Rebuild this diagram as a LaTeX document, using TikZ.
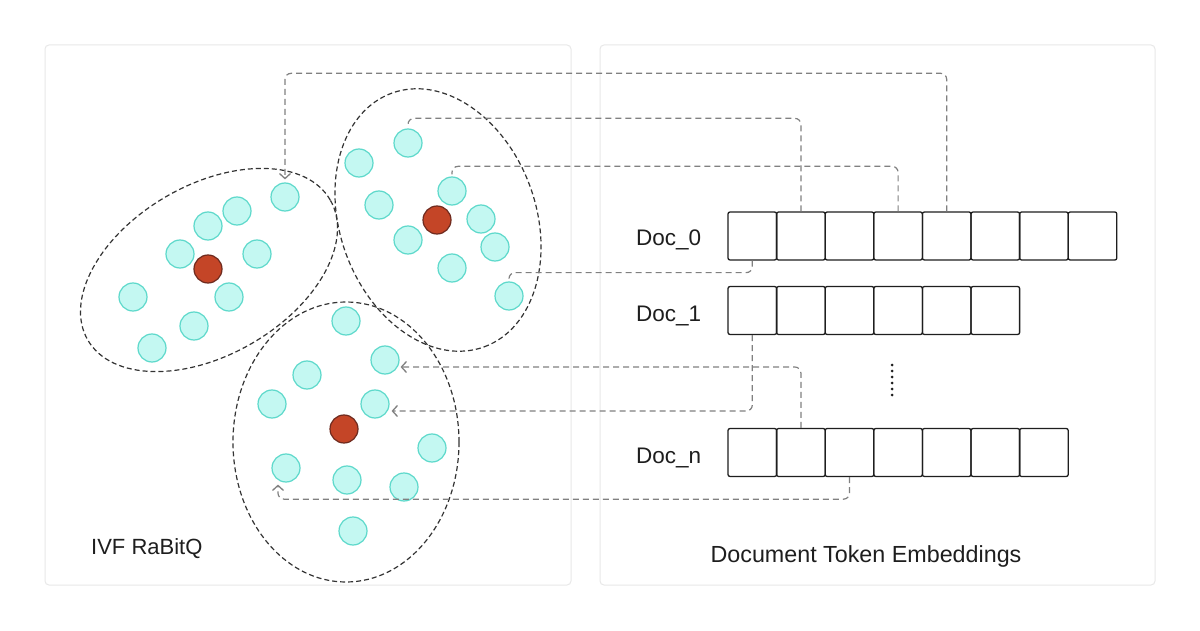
\documentclass[tikz,border=0pt]{standalone}
\usepackage{fontspec}
\setmainfont{Liberation Sans}
\usetikzlibrary{arrows.meta}
\definecolor{cyanfill}{HTML}{C4F8F2}
\definecolor{cyanline}{HTML}{5DD9CB}
\definecolor{redfill}{HTML}{C44527}
\definecolor{redline}{HTML}{6E2A1E}
\definecolor{panelline}{HTML}{E8E8E8}
\definecolor{connline}{HTML}{808080}
\definecolor{clusline}{HTML}{333333}
\definecolor{txt}{HTML}{1E1E1E}
\tikzset{
  panel/.style={draw=panelline, line width=1pt, rounded corners=4pt},
  clus/.style={draw=clusline, line width=1.2pt, dash pattern=on 5pt off 3pt},
  cy/.style={circle, minimum size=28pt, inner sep=0pt, fill=cyanfill, draw=cyanline, line width=1.2pt},
  cent/.style={circle, minimum size=28pt, inner sep=0pt, fill=redfill, draw=redline, line width=1.2pt},
  cell/.style={draw=txt, line width=1.3pt, rounded corners=2pt, minimum width=48.6pt, minimum height=48pt, inner sep=0pt},
  conn/.style={draw=connline, line width=1.2pt, dash pattern=on 6pt off 4pt, rounded corners=6pt},
  tip/.style={-{Straight Barb[length=5pt,width=11pt,line width=1.3pt]}},
  lbl/.style={inner sep=0pt, text=txt, font=\fontsize{22.5}{27}\selectfont},
}
\begin{document}
\begin{tikzpicture}[x=1pt,y=-1pt]
\useasboundingbox (0,0) rectangle (1200,631);
\fill[white] (0,0) rectangle (1200,631);
% panels
\draw[panel] (45,45) rectangle (571,585);
\draw[panel] (600,45) rectangle (1155,585);
% cluster outlines
\draw[clus, rotate around={30:(209,270)}] (209,270) ellipse [x radius=140pt, y radius=85pt];
\draw[clus, rotate around={-70:(438,220)}] (438,220) ellipse [x radius=135pt, y radius=98pt];
\draw[clus] (346,442) ellipse [x radius=113pt, y radius=140pt];
% cluster A
\node[cy] (a1) at (285,197) {};
\node[cy] (a2) at (237,211) {};
\node[cy] (a3) at (208,226) {};
\node[cy] (a4) at (180,254) {};
\node[cy] (a5) at (257,254) {};
\node[cy] (a6) at (229,297) {};
\node[cy] (a7) at (133,297) {};
\node[cy] (a8) at (194,326) {};
\node[cy] (a9) at (152,348) {};
\node[cent] (ac) at (208,269) {};
% cluster B
\node[cy] (b1) at (408,143) {};
\node[cy] (b2) at (359,163) {};
\node[cy] (b3) at (379,205) {};
\node[cy] (b4) at (452,191) {};
\node[cy] (b5) at (481,219) {};
\node[cy] (b6) at (408,240) {};
\node[cy] (b7) at (495,247) {};
\node[cy] (b8) at (452,268) {};
\node[cy] (b9) at (509,296) {};
\node[cent] (bc) at (437,220) {};
% cluster C
\node[cy] (c1) at (346,321) {};
\node[cy] (c2) at (385,360) {};
\node[cy] (c3) at (307,375) {};
\node[cy] (c4) at (272,404) {};
\node[cy] (c5) at (375,404) {};
\node[cy] (c6) at (432,448) {};
\node[cy] (c7) at (286,468) {};
\node[cy] (c8) at (347,480) {};
\node[cy] (c9) at (404,487) {};
\node[cy] (c10) at (353,531) {};
\node[cent] (cc) at (344,429) {};
% arrays
\foreach \i in {1,...,8} \node[cell] (d0-\i) at ({728+48.6*(\i-0.5)},236) {};
\foreach \i in {1,...,6} \node[cell] (d1-\i) at ({728+48.6*(\i-0.5)},310.5) {};
\foreach \i in {1,...,7} \node[cell] (dn-\i) at ({728+48.6*(\i-0.5)},452.5) {};
% labels
\node[lbl, anchor=base west] (l0) at (636,246) {Doc\_0};
\node[lbl, anchor=base west] (l1) at (636,321) {Doc\_1};
\node[lbl, anchor=base west] (ln) at (636,463) {Doc\_n};
\node[lbl, anchor=base west, font=\fontsize{22}{26}\selectfont] (ivf) at (91,554) {IVF RaBitQ};
\node[lbl, anchor=base, font=\fontsize{23.3}{28}\selectfont] (dte) at (866,562) {Document Token Embeddings};
% vertical dots
\foreach \k in {0,...,5} \fill[txt] (892,{365+6*\k}) circle (1.5pt);
% connectors
\draw[conn,tip] (d0-5.north) -- ++(0,-138) -| ([yshift=3pt]a1.north);
\draw[conn] (d0-2.north) -- ++(0,-93) -| ([yshift=1pt]b1.north);
\draw[conn] (d0-4.north) -- ++(0,-45) -| ([yshift=2pt]b4.north);
\draw[conn] (d0-1.south) -- ++(0,12) -| ([yshift=2pt]b9.north);
\draw[conn,tip] (d1-1.south) |- ([yshift=-7pt,xshift=2pt]c5.east);
\draw[conn,tip] (dn-2.north) |- ([yshift=-7pt,xshift=1pt]c2.east);
\draw[conn,tip] (dn-3.south) -- ++(0,22) -| ([xshift=-8pt,yshift=-2pt]c7.south);
\end{tikzpicture}
\end{document}
